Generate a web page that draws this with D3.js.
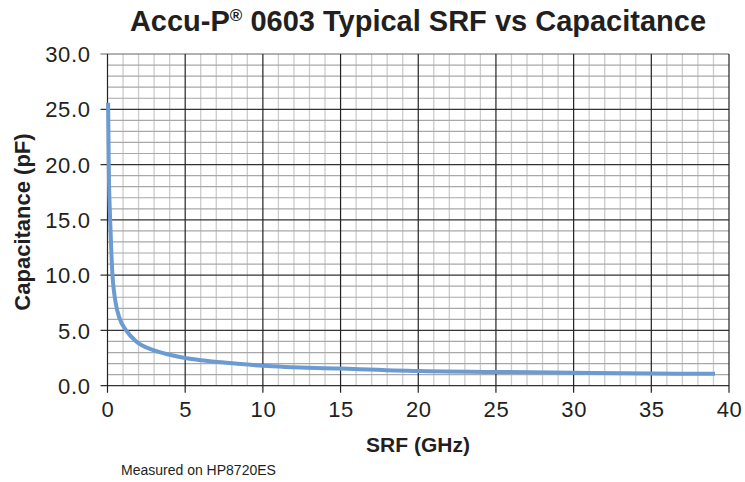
<!DOCTYPE html>
<html><head><meta charset="utf-8">
<script src="https://cdn.jsdelivr.net/npm/d3@7"></script>
<style>body{margin:0;background:#fff;} text{font-family:"Liberation Sans",Arial,Helvetica,sans-serif;fill:#231f20;}</style>
</head><body>
<svg id="c" width="745" height="482"></svg>
<script>
const srf = [0.04, 0.08, 0.17, 0.25, 0.32, 0.42, 0.55, 0.75, 1.2, 1.85, 3, 4, 5, 6, 7.5, 10, 15, 20, 25, 30, 35, 39.1];
const capacitance = [25.6, 20, 15, 12, 10, 8.5, 7.3, 6.2, 5, 4, 3.2, 2.8, 2.5, 2.3, 2.1, 1.8, 1.55, 1.33, 1.25, 1.17, 1.1, 1.08];
const xTicks = [0, 5, 10, 15, 20, 25, 30, 35, 40];
const yTicks = [0, 5, 10, 15, 20, 25, 30];
const xLabel = "SRF (GHz)";
const yLabel = "Capacitance (pF)";
const note = "Measured on HP8720ES";

const svg = d3.select("#c");
const x = d3.scaleLinear().domain([0, 40]).range([107.5, 729]);
const y = d3.scaleLinear().domain([0, 30]).range([385.7, 54]);

const g = svg.append("g");
// minor grid
const minorX = d3.range(0, 41).filter(v => v % 5 !== 0);
const minorY = d3.range(0, 31).filter(v => v % 5 !== 0);
g.selectAll(".mx").data(minorX).join("line")
  .attr("x1", d => x(d)).attr("x2", d => x(d)).attr("y1", y(0)).attr("y2", y(30))
  .attr("stroke", "#cccccc").attr("stroke-width", 1.3);
g.selectAll(".my").data(minorY).join("line")
  .attr("x1", x(0)).attr("x2", x(40)).attr("y1", d => y(d)).attr("y2", d => y(d))
  .attr("stroke", "#a8a8a8").attr("stroke-width", 1.2);
// major grid
g.selectAll(".MY").data(yTicks).join("line")
  .attr("x1", x(0) - 7).attr("x2", x(40)).attr("y1", d => y(d)).attr("y2", d => y(d))
  .attr("stroke", d => d === 30 ? "#666" : "#333").attr("stroke-width", 1.2);
g.selectAll(".MX").data(xTicks).join("line")
  .attr("x1", d => x(d)).attr("x2", d => x(d)).attr("y1", y(30)).attr("y2", y(0) + 7)
  .attr("stroke", "#222").attr("stroke-width", 1.2);

const xAxis = svg.append("g").attr("transform", `translate(0,${y(0)})`)
  .call(d3.axisBottom(x).tickValues(xTicks).tickSize(0).tickPadding(16));
xAxis.select(".domain").remove();
xAxis.selectAll("text").style("font-size", "22px").style("letter-spacing", "0.6px")
  .style("font-family", "Liberation Sans, Arial, sans-serif").attr("fill", "#231f20");

const yAxis = svg.append("g").attr("transform", `translate(${x(0)},0)`)
  .call(d3.axisLeft(y).tickValues(yTicks).tickFormat(d3.format(".1f")).tickSize(0).tickPadding(17));
yAxis.select(".domain").remove();
yAxis.selectAll("text").style("font-size", "22px").style("letter-spacing", "0.6px")
  .style("font-family", "Liberation Sans, Arial, sans-serif").attr("fill", "#231f20").attr("dy", "0.35em");

// curve
const pts = srf.map((s, i) => [s, capacitance[i]]);
svg.append("path").datum(pts)
  .attr("fill", "none").attr("stroke", "#6b9bd1").attr("stroke-width", 4)
  .attr("stroke-linecap", "butt")
  .attr("d", d3.line().x(d => x(d[0])).y(d => y(d[1])).curve(d3.curveMonotoneX));

// title
const t = svg.append("text").attr("x", 418).attr("y", 31).attr("text-anchor", "middle")
  .style("font-size", "29px").style("font-weight", "bold");
t.append("tspan").text("Accu-P");
t.append("tspan").text("®").attr("dy", -10).style("font-size", "17px");
t.append("tspan").text(" 0603 Typical SRF vs Capacitance").attr("dy", 10);

svg.append("text").attr("x", 418).attr("y", 452).attr("text-anchor", "middle")
  .style("font-size", "21px").style("font-weight", "bold").text(xLabel);
svg.append("text").attr("transform", "translate(30,222) rotate(-90)").attr("text-anchor", "middle")
  .style("font-size", "22px").style("font-weight", "bold").text(yLabel);
svg.append("text").attr("x", 121).attr("y", 475).style("font-size", "14px").text(note);
</script>
</body></html>
